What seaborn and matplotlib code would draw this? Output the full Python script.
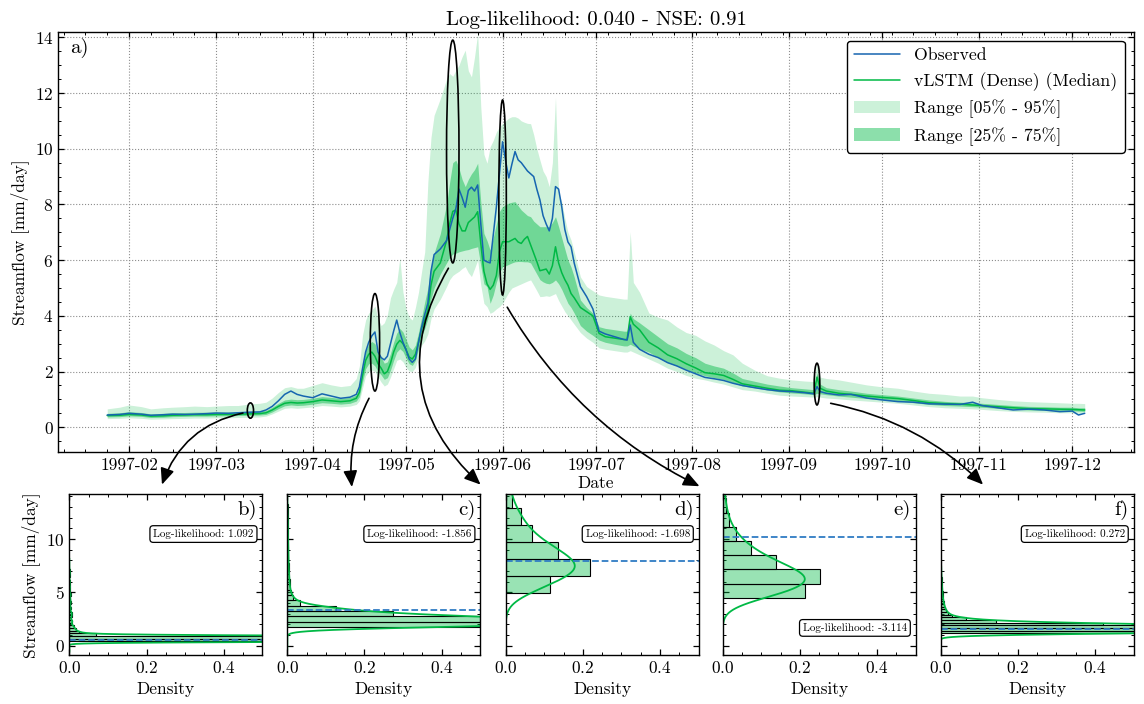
import numpy as np
import pandas as pd
import matplotlib
matplotlib.use("Agg")
import matplotlib.pyplot as plt
import matplotlib.dates as mdates
from matplotlib.patches import Ellipse
from matplotlib.ticker import MultipleLocator
import seaborn as sns

# ---------------------------------------------------------------- data
year_start = pd.Timestamp("1997-01-01")

# days since 1 January 1997
day_of_year = [
    24, 28, 31, 35, 38, 42, 45, 49, 52, 56, 59, 63, 66, 70, 73,
    75, 77, 79, 81, 83, 85, 87, 90, 93, 96, 99, 102, 104,
    105, 106, 107, 108, 109, 110, 111, 112, 113, 114, 115, 116, 117, 118, 119, 120,
    121, 122, 123, 124, 125, 126, 127, 128, 129, 131, 133,
    134, 135, 136, 137, 138, 139, 140, 141, 142, 143, 144, 145, 146, 147, 148, 149, 150,
    151, 152, 153, 154, 155, 156, 157, 158, 159, 160, 161, 162, 163, 164, 165, 166, 167,
    168, 169, 170, 171, 172, 173, 174, 176, 178, 180, 182,
    184, 187, 190, 191, 192, 193, 195, 198, 201, 204, 207, 210, 213, 216, 219, 222, 225,
    228, 232, 236, 240, 244, 248, 251, 252, 253, 255, 259, 263, 268, 273, 278, 283, 288,
    293, 298, 302, 305, 310, 315, 320, 325, 330, 334, 336, 338,
]

observed = [
    0.44, 0.46, 0.50, 0.47, 0.43, 0.45, 0.47, 0.46, 0.47, 0.49, 0.51, 0.50, 0.52, 0.54, 0.55,
    0.62, 0.75, 0.95, 1.18, 1.30, 1.18, 1.12, 1.06, 1.20, 1.12, 1.04, 1.08, 1.18,
    1.45, 2.10, 2.70, 3.05, 3.28, 3.42, 2.70, 2.50, 2.42, 2.55, 3.00, 3.45, 3.85, 3.40, 3.05, 2.78,
    2.45, 2.33, 2.45, 3.05, 3.60, 4.05, 4.45, 5.60, 6.20, 6.40, 6.70,
    7.10, 7.50, 7.85, 8.55, 8.25, 7.90, 8.50, 8.62, 8.48, 8.70, 7.30, 6.00, 5.94, 5.90, 6.90, 7.90, 9.10,
    10.25, 9.55, 8.95, 9.45, 9.90, 9.60, 9.50, 9.35, 9.20, 9.10, 9.00, 8.55, 8.16, 7.60, 7.30, 7.05, 7.50,
    8.64, 8.55, 7.92, 7.10, 6.65, 6.48, 5.90, 5.05, 4.69, 4.25, 3.45,
    3.35, 3.25, 3.15, 3.13, 3.67, 3.05, 2.80, 2.62, 2.50, 2.32, 2.20, 2.05, 1.92, 1.79, 1.74, 1.68, 1.58,
    1.50, 1.42, 1.35, 1.30, 1.28, 1.24, 1.20, 1.46, 1.28, 1.22, 1.16, 1.18, 1.05, 0.98, 0.92, 0.90, 0.84,
    0.83, 0.82, 0.90, 0.78, 0.70, 0.62, 0.65, 0.62, 0.56, 0.58, 0.44, 0.50,
]

median = [
    0.42, 0.43, 0.46, 0.44, 0.40, 0.41, 0.43, 0.44, 0.45, 0.45, 0.46, 0.46, 0.47, 0.48, 0.49,
    0.52, 0.62, 0.75, 0.86, 0.89, 0.87, 0.88, 0.92, 0.98, 0.95, 0.92, 0.95, 1.04,
    1.25, 1.85, 2.40, 2.62, 2.70, 2.55, 2.28, 2.12, 1.92, 2.00, 2.30, 2.70, 2.98, 3.12, 3.00, 2.78,
    2.52, 2.45, 2.62, 3.05, 3.55, 3.85, 4.20, 5.10, 5.60, 5.90, 6.70,
    7.30, 7.75, 7.80, 7.30, 7.05, 7.05, 7.35, 7.45, 7.55, 7.74, 6.60, 5.60, 5.15, 4.95, 5.10, 5.45, 6.30,
    6.66, 6.66, 6.66, 6.72, 6.78, 6.65, 6.60, 6.75, 6.85, 6.55, 6.25, 5.95, 5.62, 5.65, 5.68, 5.50, 5.80,
    6.48, 5.90, 5.55, 5.30, 5.10, 4.80, 4.65, 4.30, 4.15, 4.00, 3.37,
    3.25, 3.20, 3.15, 3.15, 3.97, 3.70, 3.50, 3.05, 2.85, 2.60, 2.46, 2.28, 2.13, 1.96, 1.92, 1.86, 1.72,
    1.56, 1.48, 1.40, 1.33, 1.31, 1.26, 1.22, 1.80, 1.40, 1.30, 1.22, 1.18, 1.12, 1.07, 1.03, 0.96, 0.88,
    0.85, 0.83, 0.80, 0.78, 0.74, 0.70, 0.67, 0.66, 0.65, 0.64, 0.63, 0.62,
]

q05 = [
    0.31, 0.32, 0.34, 0.32, 0.29, 0.30, 0.31, 0.32, 0.33, 0.33, 0.34, 0.34, 0.35, 0.36, 0.37,
    0.40, 0.48, 0.58, 0.68, 0.70, 0.68, 0.70, 0.73, 0.78, 0.76, 0.73, 0.76, 0.82,
    0.95, 1.40, 1.85, 2.00, 2.05, 2.00, 1.80, 1.62, 1.48, 1.55, 1.80, 2.10, 2.40, 2.45, 2.35, 2.15,
    2.02, 2.00, 2.15, 2.55, 2.95, 3.10, 3.35, 3.90, 4.25, 4.60, 5.05,
    5.30, 5.45, 5.53, 5.60, 5.70, 5.77, 5.55, 5.41, 5.70, 6.00, 5.10, 4.45, 4.33, 4.09, 4.15, 4.25, 4.33,
    4.45, 4.65, 4.85, 5.00, 5.05, 5.10, 5.15, 5.20, 5.25, 5.29, 5.10, 4.90, 4.69, 4.70, 4.72, 4.70, 4.75,
    4.80, 4.55, 4.35, 4.15, 4.00, 3.85, 3.70, 3.40, 3.20, 3.05, 2.85,
    2.80, 2.75, 2.70, 2.70, 2.75, 2.70, 2.60, 2.45, 2.30, 2.12, 2.00, 1.86, 1.76, 1.70, 1.62, 1.55, 1.45,
    1.35, 1.30, 1.22, 1.15, 1.12, 1.10, 1.08, 1.10, 1.08, 1.05, 1.02, 0.98, 0.94, 0.90, 0.86, 0.80, 0.74,
    0.70, 0.68, 0.66, 0.64, 0.60, 0.57, 0.55, 0.54, 0.52, 0.52, 0.50, 0.50,
]

q25 = [
    0.37, 0.38, 0.41, 0.39, 0.35, 0.36, 0.38, 0.39, 0.40, 0.40, 0.41, 0.41, 0.42, 0.43, 0.44,
    0.46, 0.55, 0.67, 0.77, 0.80, 0.78, 0.79, 0.83, 0.88, 0.86, 0.83, 0.86, 0.94,
    1.10, 1.62, 2.10, 2.28, 2.30, 2.20, 2.00, 1.88, 1.72, 1.78, 2.05, 2.40, 2.70, 2.82, 2.72, 2.48,
    2.28, 2.22, 2.40, 2.82, 3.28, 3.55, 3.90, 4.60, 5.00, 5.50, 5.90,
    6.10, 6.22, 6.25, 6.30, 6.33, 6.36, 6.38, 6.42, 6.45, 6.48, 5.80, 5.15, 5.05, 4.45, 4.75, 5.20, 5.55,
    5.77, 5.80, 5.85, 5.90, 5.94, 5.95, 5.95, 5.94, 5.94, 5.90, 5.70, 5.50, 5.30, 5.22, 5.17, 5.15, 5.20,
    5.29, 5.15, 4.95, 4.70, 4.45, 4.30, 4.10, 3.65, 3.45, 3.30, 3.13,
    3.05, 2.98, 2.92, 2.92, 2.98, 2.92, 2.82, 2.70, 2.50, 2.32, 2.20, 2.08, 1.95, 1.85, 1.78, 1.72, 1.60,
    1.48, 1.42, 1.34, 1.27, 1.23, 1.20, 1.17, 1.22, 1.20, 1.17, 1.12, 1.08, 1.03, 0.99, 0.95, 0.88, 0.82,
    0.78, 0.76, 0.74, 0.72, 0.68, 0.65, 0.62, 0.61, 0.60, 0.59, 0.58, 0.57,
]

q75 = [
    0.50, 0.52, 0.56, 0.53, 0.48, 0.50, 0.52, 0.53, 0.54, 0.54, 0.55, 0.55, 0.56, 0.58, 0.59,
    0.60, 0.72, 0.86, 0.98, 1.01, 0.99, 1.00, 1.04, 1.10, 1.07, 1.04, 1.07, 1.16,
    1.45, 2.15, 2.75, 2.98, 3.08, 3.00, 2.70, 2.50, 2.30, 2.35, 2.65, 3.05, 3.38, 3.55, 3.42, 3.15,
    2.88, 2.78, 2.95, 3.40, 3.95, 4.50, 5.00, 5.75, 6.25, 6.95, 8.00,
    8.80, 9.50, 9.59, 9.30, 8.90, 8.64, 8.90, 9.10, 9.25, 9.48, 8.10, 6.96, 6.70, 6.36, 6.80, 7.30, 7.75,
    7.92, 8.00, 8.05, 8.08, 8.10, 7.95, 7.80, 7.70, 7.60, 7.56, 7.40, 7.30, 7.20, 7.20, 7.20, 7.20, 7.35,
    7.56, 7.20, 6.80, 6.40, 6.00, 5.75, 5.40, 4.57, 4.30, 4.10, 3.61,
    3.55, 3.50, 3.45, 3.45, 4.10, 3.90, 3.75, 3.50, 3.25, 3.00, 2.85, 2.65, 2.50, 2.30, 2.20, 2.12, 1.95,
    1.75, 1.65, 1.55, 1.48, 1.42, 1.38, 1.35, 1.95, 1.55, 1.42, 1.35, 1.30, 1.22, 1.17, 1.12, 1.05, 0.98,
    0.93, 0.90, 0.88, 0.86, 0.82, 0.78, 0.75, 0.74, 0.72, 0.72, 0.70, 0.70,
]

q95 = [
    0.66, 0.72, 0.80, 0.74, 0.66, 0.70, 0.72, 0.74, 0.76, 0.74, 0.76, 0.78, 0.78, 0.84, 0.86,
    0.90, 1.05, 1.25, 1.42, 1.46, 1.40, 1.40, 1.50, 1.60, 1.52, 1.46, 1.50, 1.75,
    2.20, 3.30, 3.85, 4.10, 4.20, 4.35, 3.90, 3.65, 3.75, 4.05, 4.65, 4.95, 5.20, 6.08, 4.85, 4.25,
    3.95, 3.85, 4.30, 4.85, 5.60, 6.30, 8.80, 10.40, 11.20, 11.80, 12.50,
    12.70, 12.60, 12.82, 13.00, 13.30, 13.54, 12.80, 12.58, 13.30, 14.14, 11.50, 9.80, 9.48, 10.07, 10.30, 10.60, 10.79,
    10.90, 11.00, 11.10, 11.15, 11.15, 11.10, 11.00, 10.95, 10.91, 10.90, 10.50, 10.00, 9.59, 9.20, 9.00, 8.64, 9.50,
    11.85, 8.40, 8.10, 7.50, 7.00, 6.72, 6.30, 5.40, 5.05, 4.90, 4.75,
    4.70, 4.65, 4.60, 4.60, 7.02, 5.20, 4.85, 4.10, 3.95, 3.85, 3.60, 3.40, 3.30, 3.10, 2.95, 2.75, 2.60,
    2.30, 2.05, 1.85, 1.76, 1.70, 1.66, 1.64, 2.30, 1.80, 1.75, 1.70, 1.62, 1.52, 1.45, 1.40, 1.30, 1.22,
    1.18, 1.12, 1.12, 1.06, 1.00, 0.95, 0.92, 0.90, 0.88, 0.86, 0.86, 0.85,
]

# sample-distribution snapshots (panels b-f)
panel_tags = ["b)", "c)", "d)", "e)", "f)"]
sample_day = [70, 110, 135, 151, 252]
sample_observed = [0.55, 3.37, 7.91, 10.19, 1.55]
sample_loglik = [1.092, -1.856, -1.698, -3.114, 0.272]
spread_center = [0.60, 3.05, 9.90, 8.25, 1.55]
spread_height = [0.55, 3.50, 8.00, 7.00, 1.50]

bin_start = [0.41, 1.75, 4.94, 4.50, 1.16]
bin_width = [0.25, 0.50, 1.60, 1.33, 0.25]
density_b = [2.20, 1.60, 0.068, 0.025, 0.016, 0.012, 0.006, 0.008, 0.004, 0.006, 0.007, 0.003,
             0.004, 0.002, 0.004, 0.003, 0.002, 0.004, 0.001, 0.002, 0.002, 0.001, 0.002, 0.0,
             0.001, 0.002, 0.001]
density_c = [0.80, 0.69, 0.275, 0.126, 0.034, 0.016, 0.010, 0.007, 0.006, 0.005, 0.004, 0.004,
             0.003, 0.003, 0.003, 0.002, 0.002, 0.002, 0.002, 0.002, 0.001, 0.001, 0.001]
density_d = [0.116, 0.219, 0.136, 0.067, 0.040, 0.016, 0.010, 0.006, 0.004]
density_e = [0.214, 0.253, 0.139, 0.073, 0.035, 0.016, 0.009, 0.005, 0.003]
density_f = [0.92, 1.25, 1.02, 0.422, 0.143, 0.065, 0.030, 0.020, 0.015, 0.012, 0.010, 0.008,
             0.007, 0.006, 0.005, 0.005, 0.004, 0.004, 0.003, 0.003, 0.003, 0.002, 0.002, 0.002,
             0.002, 0.001, 0.001, 0.001]
densities = [density_b, density_c, density_d, density_e, density_f]
kde_bandwidth = [0.12, 0.30, 1.15, 1.05, 0.20]

# ---------------------------------------------------------------- style
sns.set_theme(style="ticks")
plt.rcParams.update({
    "font.family": ["cmr10", "DejaVu Serif"],
    "mathtext.fontset": "cm",
    "axes.formatter.use_mathtext": True,
    "axes.unicode_minus": False,
    "font.size": 12.5,
    "axes.edgecolor": "black",
    "axes.labelcolor": "black",
    "text.color": "black",
    "xtick.color": "black",
    "ytick.color": "black",
    "axes.linewidth": 1.0,
    "xtick.direction": "in",
    "ytick.direction": "in",
    "xtick.top": True,
    "ytick.right": True,
    "xtick.major.size": 4.5,
    "ytick.major.size": 4.5,
    "xtick.minor.size": 2.2,
    "ytick.minor.size": 2.2,
    "xtick.major.width": 0.9,
    "ytick.major.width": 0.9,
    "xtick.minor.width": 0.7,
    "ytick.minor.width": 0.7,
    "xtick.minor.visible": True,
    "ytick.minor.visible": True,
    "xtick.labelsize": 12.5,
    "ytick.labelsize": 12.5,
    "axes.labelsize": 12.5,
    "legend.fontsize": 12.8,
})

GREEN = "#00B945"
BLUE = "#1665B0"
YLIM = (-0.9, 14.2)

fig = plt.figure(figsize=(11.44, 7.04), dpi=100)

# ---------------------------------------------------------------- main time series
ax = fig.add_axes([0.051, 0.3575, 0.9399, 0.5974])
dates = year_start + pd.to_timedelta(day_of_year, unit="D")
flow = pd.DataFrame({"Date": dates, "Observed": observed, "Median": median})

ax.fill_between(dates, q05, q95, color=GREEN, alpha=0.2, lw=0, label="Range [05% - 95%]")
ax.fill_between(dates, q25, q75, color=GREEN, alpha=0.45, lw=0, label="Range [25% - 75%]")
sns.lineplot(data=flow, x="Date", y="Median", color=GREEN, lw=1.1, ax=ax,
             label="vLSTM (Dense) (Median)")
sns.lineplot(data=flow, x="Date", y="Observed", color=BLUE, lw=1.1, ax=ax, label="Observed")

snap_dates = [year_start + pd.Timedelta(days=d) for d in sample_day]
ellipse_width_days = [2.0, 3.0, 4.0, 2.4, 1.8]
for sd, yc, h, w in zip(snap_dates, spread_center, spread_height, ellipse_width_days):
    ax.add_patch(Ellipse((mdates.date2num(sd), yc), w, h, fill=False,
                         ec="black", lw=1.2, zorder=6))

ax.set_ylim(*YLIM)
ax.yaxis.set_major_locator(MultipleLocator(2))
ax.yaxis.set_minor_locator(MultipleLocator(0.5))
ax.xaxis.set_major_locator(mdates.MonthLocator())
ax.xaxis.set_major_formatter(mdates.DateFormatter("%Y-%m"))
ax.xaxis.set_minor_locator(mdates.WeekdayLocator(byweekday=mdates.SA))
ax.grid(True, which="major", ls=":", color="0.55", lw=0.8)
ax.set_axisbelow(True)
ax.set_xlabel("Date", labelpad=2)
ax.set_ylabel("Streamflow [mm/day]")
ax.set_title("Log-likelihood: 0.040 - NSE: 0.91", fontsize=15, pad=5)
ax.text(0.011, 0.985, "a)", transform=ax.transAxes, ha="left", va="top", fontsize=15)

handles, labels = ax.get_legend_handles_labels()
lookup = dict(zip(labels, handles))
order = ["Observed", "vLSTM (Dense) (Median)", "Range [05% - 95%]", "Range [25% - 75%]"]
ax.legend([lookup[k] for k in order], order, loc="upper right", frameon=True,
          fancybox=True, edgecolor="black", framealpha=1, handlelength=2.6)

# ---------------------------------------------------------------- distribution panels
panel_left = [0.0606, 0.2511, 0.4420, 0.6317, 0.8222]
box_y = [0.753, 0.753, 0.753, 0.17, 0.753]
panels = []
for i, left in enumerate(panel_left):
    pax = fig.add_axes([left, 0.0692, 0.1687, 0.2287])
    panels.append(pax)
    dens = np.asarray(densities[i])
    lo, w = bin_start[i], bin_width[i]
    centers = lo + w * (np.arange(len(dens)) + 0.5)

    sns.histplot(y=centers, weights=dens, binwidth=w, binrange=(lo, lo + w * len(dens)),
                 stat="count", color=GREEN, alpha=0.4, edgecolor="black", linewidth=0.8,
                 ax=pax)
    spread = np.sqrt(np.cov(centers, aweights=dens))
    sns.kdeplot(y=centers, weights=dens, bw_method=kde_bandwidth[i] / spread,
                gridsize=1500, color=GREEN, lw=1.3, ax=pax)
    pax.axhline(sample_observed[i], color="#2F7CC4", ls="--", lw=1.3)

    pax.set_xlim(0, 0.5)
    pax.set_ylim(*YLIM)
    pax.xaxis.set_major_locator(MultipleLocator(0.2))
    pax.xaxis.set_minor_locator(MultipleLocator(0.05))
    pax.yaxis.set_major_locator(MultipleLocator(5))
    pax.yaxis.set_minor_locator(MultipleLocator(1))
    pax.set_xlabel("Density")
    if i == 0:
        pax.set_ylabel("Streamflow [mm/day]")
    else:
        pax.set_ylabel("")
        pax.tick_params(labelleft=False)

    pax.text(0.975, 0.965, panel_tags[i], transform=pax.transAxes, ha="right", va="top",
             fontsize=15)
    pax.text(0.955, box_y[i], f"Log-likelihood: {sample_loglik[i]:.3f}",
             transform=pax.transAxes, ha="right", va="center", fontsize=8,
             bbox=dict(boxstyle="round,pad=0.3", fc="white", ec="black", lw=0.9))

# ---------------------------------------------------------------- arrows from snapshots to panels
arrow_start_day = [67.6, 108.1, 133.6, 152.5, 256.4]
arrow_start_flow = [0.51, 1.04, 5.71, 4.31, 0.86]
arrow_end = [(0.48, 1.06), (0.335, 1.045), (-0.13, 1.06), (-0.12, 1.05), (0.22, 1.06)]
arrow_rad = [0.28, 0.15, 0.40, 0.15, -0.15]
for i, pax in enumerate(panels):
    start = (mdates.date2num(year_start + pd.Timedelta(days=arrow_start_day[i])),
             arrow_start_flow[i])
    ax.annotate("", xy=arrow_end[i], xycoords=pax.transAxes,
                xytext=start, textcoords="data", annotation_clip=False,
                arrowprops=dict(arrowstyle="-|>,head_length=0.7,head_width=0.3",
                                mutation_scale=14, shrinkA=0, shrinkB=0,
                                connectionstyle=f"arc3,rad={arrow_rad[i]}",
                                color="black", lw=1.2))

fig.savefig("out.png", dpi=100)
